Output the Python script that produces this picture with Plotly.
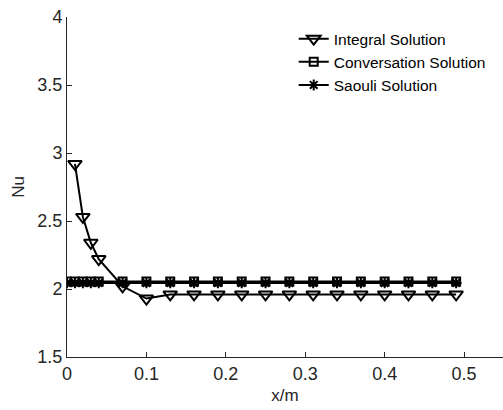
import plotly.graph_objects as go

x_int = [0.01, 0.02, 0.03, 0.04, 0.07, 0.10, 0.13, 0.16, 0.19, 0.22, 0.25, 0.28, 0.31, 0.34, 0.37, 0.40, 0.43, 0.46, 0.49]
nu_int = [2.92, 2.53, 2.34, 2.22, 2.02, 1.93, 1.96, 1.96, 1.96, 1.96, 1.96, 1.96, 1.96, 1.96, 1.96, 1.96, 1.96, 1.96, 1.96]

x_con = [0.0, 0.01, 0.02, 0.03, 0.04, 0.07, 0.10, 0.13, 0.16, 0.19, 0.22, 0.25, 0.28, 0.31, 0.34, 0.37, 0.40, 0.43, 0.46, 0.49]
nu_con = [2.055] * 20
nu_sao = [2.045] * 20

x_ticks = [0, 0.1, 0.2, 0.3, 0.4, 0.5]
x_tick_labels = ["0", "0.1", "0.2", "0.3", "0.4", "0.5"]
y_ticks = [1.5, 2, 2.5, 3, 3.5, 4]
y_tick_labels = ["1.5", "2", "2.5", "3", "3.5", "4"]

font = "Liberation Sans, Arial, sans-serif"
axcol = "#262626"

fig = go.Figure()
fig.add_trace(go.Scatter(
    x=x_int, y=nu_int, name="Integral Solution", mode="lines+markers",
    line=dict(color="black", width=2),
    marker=dict(symbol="triangle-down-open", size=12, color="black", line=dict(width=2, color="black")),
))
fig.add_trace(go.Scatter(
    x=x_con, y=nu_con, name="Conversation Solution", mode="lines+markers",
    line=dict(color="black", width=2),
    marker=dict(symbol="square-open", size=8, color="black", line=dict(width=2, color="black")),
))
fig.add_trace(go.Scatter(
    x=x_con, y=nu_sao, name="Saouli Solution", mode="lines+markers",
    line=dict(color="black", width=2),
    marker=dict(symbol="asterisk-open", size=9, color="black", line=dict(width=2, color="black")),
))

fig.update_layout(
    width=503, height=410,
    margin=dict(l=67, r=0, t=17, b=53),
    paper_bgcolor="white", plot_bgcolor="white",
    font=dict(family=font, size=15.5, color=axcol),
    showlegend=True,
    legend=dict(x=0.52, y=0.985, xanchor="left", yanchor="top",
                bgcolor="rgba(255,255,255,0)", borderwidth=0,
                font=dict(family=font, size=15.5, color="black"),
                tracegroupgap=0, itemwidth=30),
)
fig.update_xaxes(
    range=[0, 0.549], tickvals=x_ticks, ticktext=x_tick_labels, automargin=False,
    showgrid=False, zeroline=False, showline=True, linecolor=axcol, linewidth=1,
    ticks="inside", ticklen=5, tickcolor=axcol,
    title=dict(text="x/m", font=dict(size=17, family=font, color=axcol), standoff=6),
    tickfont=dict(size=18, family=font, color=axcol),
)
fig.update_yaxes(
    range=[1.5, 4], tickvals=y_ticks, ticktext=y_tick_labels, automargin=False,
    showgrid=False, zeroline=False, showline=True, linecolor=axcol, linewidth=1,
    ticks="inside", ticklen=5, tickcolor=axcol,
    title=dict(text="Nu", font=dict(size=17, family=font, color=axcol), standoff=8),
    tickfont=dict(size=18, family=font, color=axcol),
)

fig.write_html("out.html", config={"displayModeBar": False},
               post_script="document.body.style.margin='0';document.body.style.overflow='hidden';")
